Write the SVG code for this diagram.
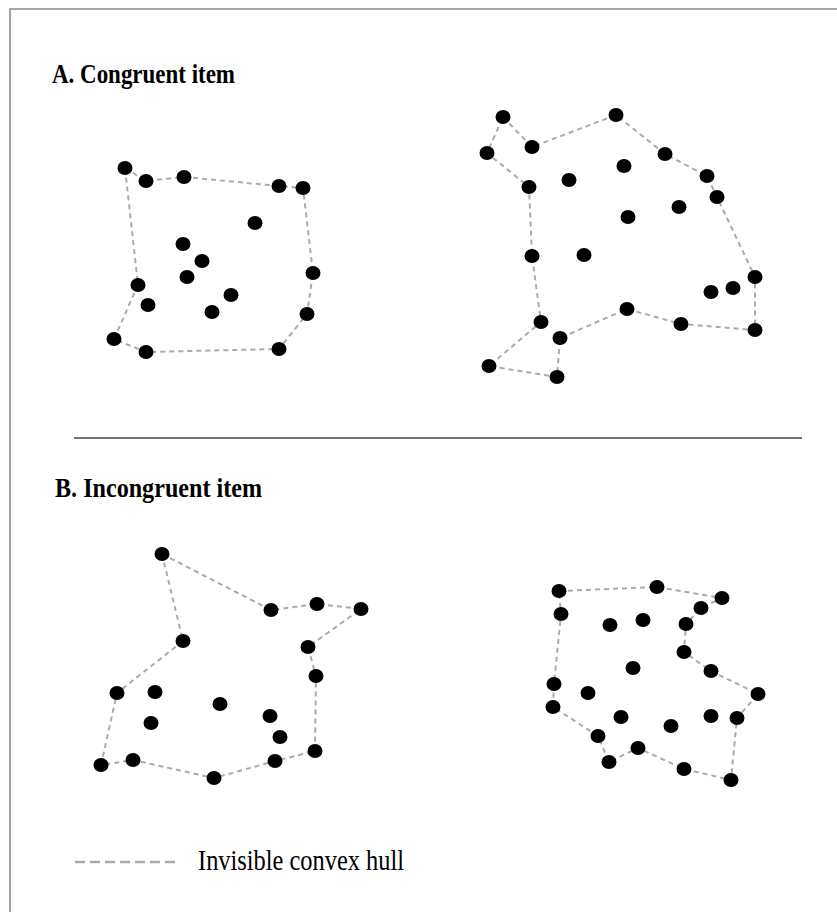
<svg xmlns="http://www.w3.org/2000/svg" width="837" height="912" viewBox="0 0 837 912">
<style>
.hull{fill:none;stroke:#aaaaaa;stroke-width:2;stroke-dasharray:5 4}
.d{fill:#000}
.title{font-family:"Liberation Serif","Times New Roman",serif;font-weight:bold;font-size:28px;fill:#000}
.leg{font-family:"Liberation Serif","Times New Roman",serif;font-size:29px;fill:#000}
</style>
<defs>
<ellipse id="dot" cx="0" cy="0" rx="7.5" ry="7"/>
</defs>
<rect x="0" y="0" width="837" height="912" fill="#fff"/>
<path d="M10 912 V9 H837" fill="none" stroke="#8a8a8a" stroke-width="1.6"/>
<text class="title" x="52" y="83" textLength="183" lengthAdjust="spacingAndGlyphs">A. Congruent item</text>
<line x1="74" y1="438" x2="802" y2="438" stroke="#444" stroke-width="1.6"/>
<text class="title" x="55" y="497" textLength="207" lengthAdjust="spacingAndGlyphs">B. Incongruent item</text>

<g id="connectors">
<polygon class="hull" points="125,168 146,181 184,177 279,186 303,188 313,273 307,314 279,349 146,352 114,339 138,285"/>
<polygon class="hull" points="503,117 532,147 616,115 665,154 707,176 717,197 755,277 755,330 681,324 627,309 560,338 557,377 489,366 541,322 532,256 529,187 487,153"/>
<polygon class="hull" points="162,554 271,610 317,604 361,609 308,647 316,676 315,751 275,761 214,778 133,760 101,765 117,693 183,641"/>
<polygon class="hull" points="559,591 657,587 722,598 701,608 686,624 684,652 711,671 758,694 737,718 731,780 684,769 638,748 609,762 598,736 553,707 554,684 561,614"/>
</g>

<g id="setA-left" class="d">
<use href="#dot" x="125" y="168"/><use href="#dot" x="146" y="181"/><use href="#dot" x="184" y="177"/>
<use href="#dot" x="279" y="186"/><use href="#dot" x="303" y="188"/><use href="#dot" x="255" y="223"/>
<use href="#dot" x="183" y="244"/><use href="#dot" x="202" y="261"/><use href="#dot" x="187" y="277"/>
<use href="#dot" x="313" y="273"/><use href="#dot" x="138" y="285"/><use href="#dot" x="148" y="305"/>
<use href="#dot" x="231" y="295"/><use href="#dot" x="212" y="312"/><use href="#dot" x="307" y="314"/>
<use href="#dot" x="114" y="339"/><use href="#dot" x="146" y="352"/><use href="#dot" x="279" y="349"/>
</g>

<g id="setA-right" class="d">
<use href="#dot" x="503" y="117"/><use href="#dot" x="616" y="115"/><use href="#dot" x="487" y="153"/>
<use href="#dot" x="532" y="147"/><use href="#dot" x="665" y="154"/><use href="#dot" x="624" y="166"/>
<use href="#dot" x="569" y="180"/><use href="#dot" x="529" y="187"/><use href="#dot" x="707" y="176"/>
<use href="#dot" x="717" y="197"/><use href="#dot" x="679" y="207"/><use href="#dot" x="628" y="217"/>
<use href="#dot" x="532" y="256"/><use href="#dot" x="584" y="255"/><use href="#dot" x="755" y="277"/>
<use href="#dot" x="733" y="288"/><use href="#dot" x="711" y="292"/><use href="#dot" x="627" y="309"/>
<use href="#dot" x="541" y="322"/><use href="#dot" x="681" y="324"/><use href="#dot" x="755" y="330"/>
<use href="#dot" x="560" y="338"/><use href="#dot" x="489" y="366"/><use href="#dot" x="557" y="377"/>
</g>

<g id="setB-left" class="d">
<use href="#dot" x="162" y="554"/><use href="#dot" x="271" y="610"/><use href="#dot" x="317" y="604"/>
<use href="#dot" x="361" y="609"/><use href="#dot" x="183" y="641"/><use href="#dot" x="308" y="647"/>
<use href="#dot" x="316" y="676"/><use href="#dot" x="117" y="693"/><use href="#dot" x="155" y="692"/>
<use href="#dot" x="220" y="704"/><use href="#dot" x="151" y="723"/><use href="#dot" x="270" y="716"/>
<use href="#dot" x="280" y="737"/><use href="#dot" x="315" y="751"/><use href="#dot" x="101" y="765"/>
<use href="#dot" x="133" y="760"/><use href="#dot" x="275" y="761"/><use href="#dot" x="214" y="778"/>
</g>

<g id="setB-right" class="d">
<use href="#dot" x="559" y="591"/><use href="#dot" x="657" y="587"/><use href="#dot" x="722" y="598"/>
<use href="#dot" x="701" y="608"/><use href="#dot" x="561" y="614"/><use href="#dot" x="610" y="625"/>
<use href="#dot" x="643" y="620"/><use href="#dot" x="686" y="624"/><use href="#dot" x="684" y="652"/>
<use href="#dot" x="633" y="668"/><use href="#dot" x="711" y="671"/><use href="#dot" x="554" y="684"/>
<use href="#dot" x="588" y="693"/><use href="#dot" x="758" y="694"/><use href="#dot" x="553" y="707"/>
<use href="#dot" x="621" y="717"/><use href="#dot" x="671" y="726"/><use href="#dot" x="711" y="716"/>
<use href="#dot" x="737" y="718"/><use href="#dot" x="598" y="736"/><use href="#dot" x="638" y="748"/>
<use href="#dot" x="609" y="762"/><use href="#dot" x="684" y="769"/><use href="#dot" x="731" y="780"/>
</g>

<g id="legend">
<line x1="75" y1="862" x2="177" y2="862" stroke="#aaaaaa" stroke-width="2.5" stroke-dasharray="10 5"/>
<text class="leg" x="198" y="870" textLength="206" lengthAdjust="spacingAndGlyphs">Invisible convex hull</text>
</g>
</svg>
